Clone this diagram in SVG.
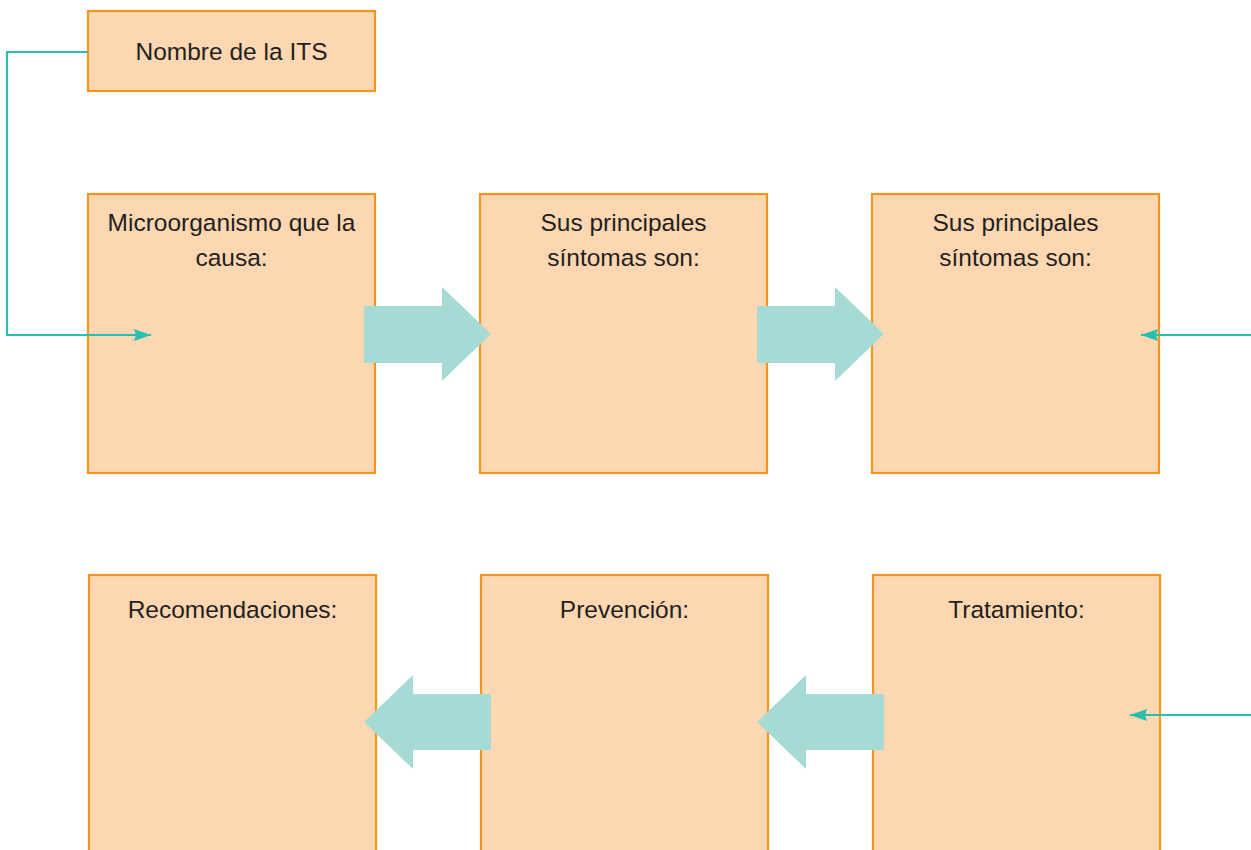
<svg xmlns="http://www.w3.org/2000/svg" width="1251" height="850" viewBox="0 0 1251 850">
<defs>
<style>
.box{fill:#FDD7B1;stroke:#F7941D;stroke-width:2.2}
.t{font-family:"Liberation Sans",Arial,sans-serif;font-size:24.5px;fill:#231F20;text-anchor:middle}
.ln{fill:none;stroke:#26BFB0;stroke-width:2.2}
.big{fill:#A5DAD5}
</style>
<marker id="ah" markerWidth="18" markerHeight="14" refX="17" refY="7" orient="auto" markerUnits="userSpaceOnUse">
<path d="M0,1 L17,7 L0,13 L2,7 Z" fill="#26BFB0"/>
</marker>
</defs>
<g id="n-nombre"><rect class="box" x="88" y="11" width="287" height="80"/><text class="t" x="231.5" y="60">Nombre de la ITS</text></g>
<g id="n-micro"><rect class="box" x="88" y="194" width="287" height="279"/><text class="t" x="231.5" y="231">Microorganismo que la</text><text class="t" x="231.5" y="266">causa:</text></g>
<g id="n-sint1"><rect class="box" x="480" y="194" width="287" height="279"/><text class="t" x="623.5" y="231">Sus principales</text><text class="t" x="623.5" y="266">síntomas son:</text></g>
<g id="n-sint2"><rect class="box" x="872" y="194" width="287" height="279"/><text class="t" x="1015.5" y="231">Sus principales</text><text class="t" x="1015.5" y="266">síntomas son:</text></g>
<g id="n-recom"><rect class="box" x="89" y="575" width="287" height="290"/><text class="t" x="232.5" y="618">Recomendaciones:</text></g>
<g id="n-prev"><rect class="box" x="481" y="575" width="287" height="290"/><text class="t" x="624.5" y="618">Prevención:</text></g>
<g id="n-trat"><rect class="box" x="873" y="575" width="287" height="290"/><text class="t" x="1016.5" y="618">Tratamiento:</text></g>
<g id="connectors">
<polyline class="ln" points="88,52 7,52 7,335 151,335" marker-end="url(#ah)"/>
<line class="ln" x1="1251" y1="335" x2="1141" y2="335" marker-end="url(#ah)"/>
<line class="ln" x1="1251" y1="715" x2="1130" y2="715" marker-end="url(#ah)"/>
<polygon class="big" points="364,306 442,306 442,287 491,334 442,381 442,363 364,363"/>
<polygon class="big" points="757,306 835,306 835,287 884,334 835,381 835,363 757,363"/>
<polygon class="big" points="491,694 413,694 413,675 364,722 413,769 413,750 491,750"/>
<polygon class="big" points="884,694 806,694 806,675 757,722 806,769 806,750 884,750"/>
</g>
</svg>
